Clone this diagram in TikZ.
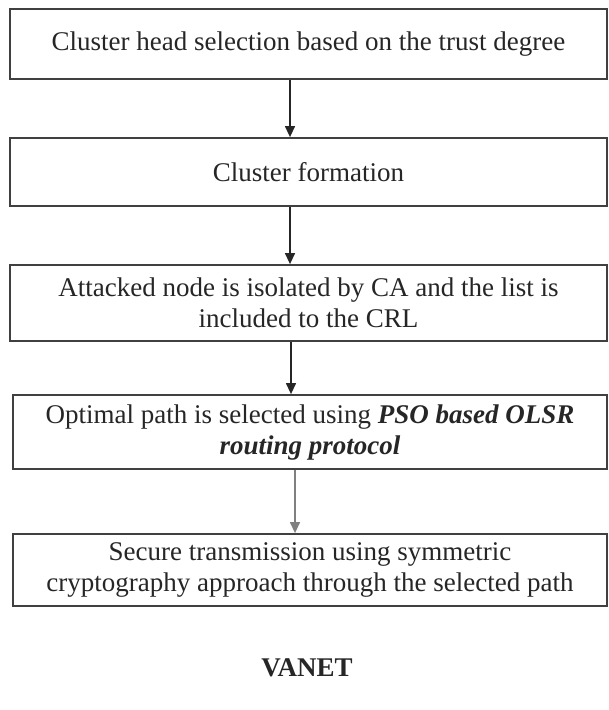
\documentclass[tikz,border=0pt]{standalone}
\usepackage{fontspec}
\setmainfont{Liberation Serif}
\usetikzlibrary{arrows.meta}
\begin{document}
\begin{tikzpicture}[x=1pt,y=-1pt,
  stepbox/.style={draw=black!75,line width=1.8pt,fill=white,inner sep=0pt,align=center,font=\fontsize{27}{31}\selectfont,text=black!85},
  flow/.style={draw=black!85,line width=1.3pt,-{Triangle[length=11pt,width=10pt]}}]
\useasboundingbox (0,0) rectangle (609,710);
\node[stepbox,minimum width=597pt,minimum height=70pt] (b1) at (308.5,44) {Cluster head selection based on the trust degree};
\node[stepbox,minimum width=597pt,minimum height=68pt] (b2) at (308.5,172) {Cluster formation};
\node[stepbox,minimum width=597pt,minimum height=76pt] (b3) at (308.5,303) {Attacked node is isolated by CA and the list is\\included to the CRL};
\node[stepbox,minimum width=594pt,minimum height=74pt] (b4) at (310,432) {Optimal path is selected using \textbf{\textit{PSO based OLSR}}\\\textbf{\textit{routing protocol}}};
\node[stepbox,minimum width=594pt,minimum height=72pt] (b5) at (310,570) {Secure transmission using symmetric\\cryptography approach through the selected path};
\node[font=\fontsize{27}{30}\selectfont\bfseries,text=black!85] (v) at (307,668) {VANET};
\draw[flow] (b1.south -| 290,0) -- (b2.north -| 290,0);
\draw[flow] (b2.south -| 290,0) -- (b3.north -| 290,0);
\draw[flow] (b3.south -| 291,0) -- (b4.north -| 291,0);
\draw[flow,draw=black!50] (b4.south -| 295,0) -- (b5.north -| 295,0);
\end{tikzpicture}
\end{document}
